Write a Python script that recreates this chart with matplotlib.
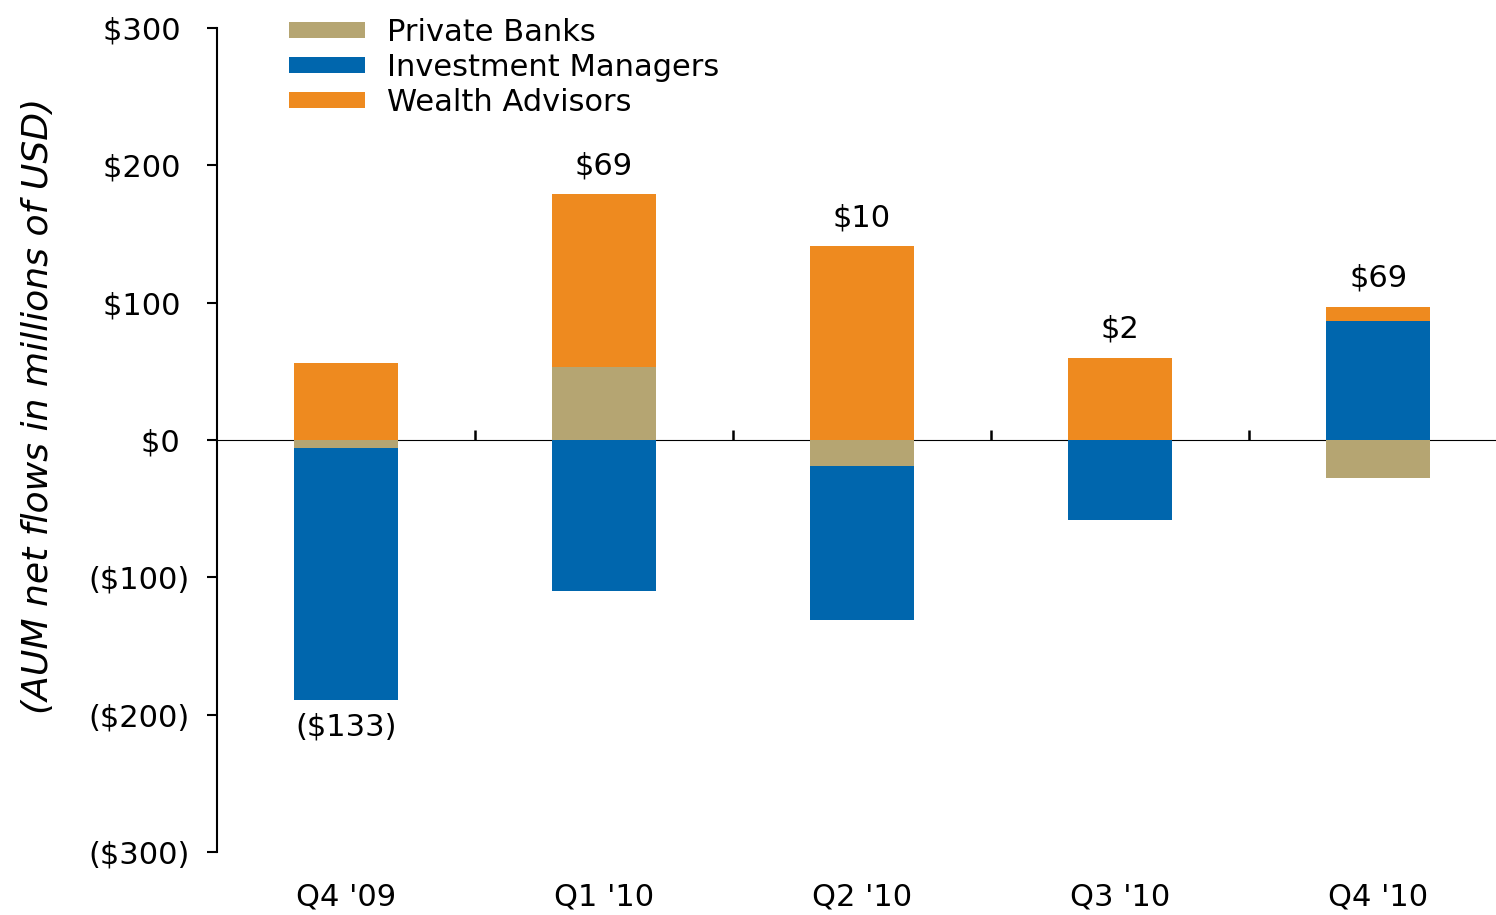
import matplotlib.pyplot as plt
import numpy as np

quarters = ["Q4 '09", "Q1 '10", "Q2 '10", "Q3 '10", "Q4 '10"]
series_names = ["Private Banks", "Investment Managers", "Wealth Advisors"]
private_banks = [-6, 53, -19, 0, -28]
investment_managers = [-183, -110, -112, -58, 87]
wealth_advisors = [56, 126, 141, 60, 10]
net_totals = [-133, 69, 10, 2, 69]
y_ticks = [-300, -200, -100, 0, 100, 200, 300]

colors = ['#B5A572', '#0066AD', '#EE8A1F']


def money(v):
    # accounting style: negatives in brackets, trailing space keeps digits aligned
    if v < 0:
        return '(${})'.format(-v)
    return '${} '.format(v)


plt.rcParams['font.family'] = 'DejaVu Sans'
fig = plt.figure(figsize=(14.96, 9.15), dpi=100)
ax = fig.add_axes([217 / 1496, 1 - 852 / 915, 1 - 217 / 1496, (852 - 28) / 915])

x = np.arange(len(quarters))
pos_base = np.zeros(len(quarters))
neg_base = np.zeros(len(quarters))
for name, vals, col in zip(series_names,
                           [private_banks, investment_managers, wealth_advisors],
                           colors):
    vals = np.array(vals, dtype=float)
    base = np.where(vals >= 0, pos_base, neg_base)
    ax.bar(x, vals, 0.403, bottom=base, color=col, label=name, linewidth=0)
    pos_base = pos_base + np.where(vals > 0, vals, 0)
    neg_base = neg_base + np.where(vals < 0, vals, 0)

# net total labels above / below the stacks
for i, tot in enumerate(net_totals):
    if tot >= 0:
        ax.annotate(money(tot).strip(), (x[i], pos_base[i]), xytext=(0, 10),
                    textcoords='offset points', ha='center', va='bottom',
                    fontsize=22)
    else:
        ax.annotate(money(tot), (x[i], neg_base[i]), xytext=(0, -9),
                    textcoords='offset points', ha='center', va='top',
                    fontsize=22)

ax.set_xlim(-0.5, 4.457)
ax.set_ylim(-300, 300)

ax.set_yticks(y_ticks)
ax.set_yticklabels([money(v) for v in y_ticks])
ax.tick_params(axis='y', direction='out', length=7.5, width=1.5, pad=12,
               labelsize=22)
ax.set_xticks(x)
ax.set_xticklabels(quarters)
ax.tick_params(axis='x', length=0, pad=22, labelsize=22)

for side in ['top', 'right', 'bottom']:
    ax.spines[side].set_visible(False)
ax.spines['left'].set_linewidth(1.5)

# zero line with separator ticks between quarters
zero_ax = ax.secondary_xaxis(0.5)
zero_ax.set_xticks(x[:-1] + 0.5)
zero_ax.set_xticklabels([])
zero_ax.tick_params(direction='out', length=7.5, width=1.8)
zero_ax.spines['bottom'].set_linewidth(1.9)

fig.text(38 / 1496, 1 - 406 / 915, '(AUM net flows in millions of USD)',
         rotation=90, ha='center', va='center', fontsize=26, style='italic')

ax.legend(loc='upper left', bbox_to_anchor=(289 / 1496, 1 - 18 / 915),
          bbox_transform=fig.transFigure, frameon=False, fontsize=22,
          handlelength=2.5, handleheight=0.45, handletextpad=0.7,
          labelspacing=0.19, borderpad=0, borderaxespad=0)

fig.savefig('out.png', dpi=100)
